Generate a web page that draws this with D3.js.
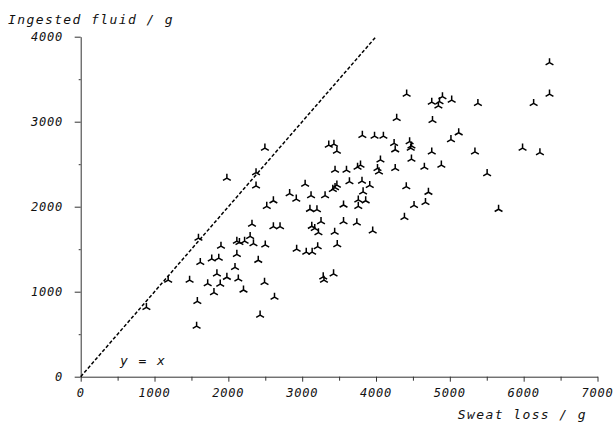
<!DOCTYPE html>
<html>
<head>
<meta charset="utf-8">
<script src="https://cdn.jsdelivr.net/npm/d3@7"></script>
<style>
  html, body { margin: 0; padding: 0; background: #fff; }
  text { font-family: "DejaVu Sans Mono", "Liberation Mono", monospace; font-style: italic; fill: #111; }
</style>
</head>
<body>
<div id="chart"></div>
<script>
// sweat loss (g) vs ingested fluid (g)
const sweatLoss = [
  890, 1570, 1580, 1185, 1475, 1595, 1620, 1720, 1775, 1870,
  1805, 1845, 1890, 1900, 1980, 1980, 2090, 2115, 2115, 2135,
  2150, 2205, 2220, 2295, 2320, 2340, 2375, 2375, 2405, 2430,
  2490, 2500, 2495, 2520, 2610, 2610, 2625, 2700, 2830, 2920,
  2925, 3040, 3055, 3105, 3120, 3135, 3130, 3170, 3200, 3210,
  3220, 3255, 3285, 3295, 3310, 3360, 3430, 3470, 3425, 3440,
  3445, 3470, 3445, 3415, 3475, 3560, 3560, 3600, 3640, 3740,
  3750, 3790, 3810, 3815, 3825, 3760, 3860, 3760, 3915, 3955,
  3980, 4020, 4040, 4060, 4100, 4245, 4260, 4260, 4280, 4385,
  4410, 4415, 4455, 4480, 4480, 4515, 4655, 4670, 4710, 4755,
  4765, 4755, 4845, 4860, 4900, 4885, 5015, 5025, 5120, 5340,
  5380, 5505, 5660, 5985, 6135, 6220, 6350, 6350, 4470
];
const ingestedFluid = [
  815, 595, 885, 1135, 1135, 1630, 1345, 1095, 1385, 1395,
  990, 1210, 1090, 1535, 1170, 2335, 1285, 1440, 1595, 1150,
  1580, 1020, 1595, 1650, 1795, 1565, 2400, 2245, 1370, 725,
  1110, 1550, 2690, 2005, 2070, 1765, 935, 1765, 2155, 2090,
  1500, 2265, 1465, 1970, 2130, 1465, 1770, 1745, 1965, 1530,
  1695, 1825, 1175, 1135, 2130, 2725, 2735, 2655, 1210, 1700,
  2430, 2255, 2225, 2205, 1555, 2020, 1825, 2430, 2295, 1810,
  2465, 2490, 2300, 2840, 2175, 2080, 2070, 2005, 2250, 1715,
  2830, 2450, 2410, 2550, 2830, 2745, 2670, 2450, 3040, 1875,
  2235, 3325, 2765, 2715, 2560, 2015, 2465, 2050, 2170, 3230,
  3015, 2645, 3185, 3235, 3295, 2490, 2790, 3255, 2870, 2645,
  3215, 2390, 1970, 2690, 3215, 2635, 3695, 3325, 2690
];
const xMajorTicks = [0, 1000, 2000, 3000, 4000, 5000, 6000, 7000];
const yMajorTicks = [0, 1000, 2000, 3000, 4000];
const identityLine = [0, 4000];

const W = 615, H = 424;
const svg = d3.select("#chart").append("svg")
  .attr("width", W).attr("height", H);

const x = d3.scaleLinear().domain([0, 7000]).range([80.7, 597.5]);
const y = d3.scaleLinear().domain([0, 4000]).range([376.7, 36.7]);

const axisColor = "#333";

// x axis
const xAxis = svg.append("g").attr("transform", `translate(0,${y(0)})`);
xAxis.call(d3.axisBottom(x).tickValues(d3.range(0, 7001, 500))
  .tickSize(4).tickSizeOuter(0).tickFormat(""));
xAxis.selectAll(".tick").filter(d => d % 1000 === 0).select("line").attr("y2", 5);
xAxis.selectAll("path, line").attr("stroke", axisColor).attr("stroke-width", 1);
xAxis.selectAll(".tick text").remove();

svg.append("g").selectAll("text").data(xMajorTicks).join("text")
  .attr("x", d => x(d))
  .attr("y", 397)
  .attr("text-anchor", "middle")
  .attr("font-size", 12)
  .attr("letter-spacing", 0.8)
  .text(d => d);

// y axis
const yAxis = svg.append("g").attr("transform", `translate(${x(0)},0)`);
yAxis.call(d3.axisLeft(y).tickValues(d3.range(0, 4001, 500))
  .tickSize(2).tickSizeOuter(0).tickFormat(""));
yAxis.selectAll(".tick").filter(d => d % 1000 === 0).select("line").attr("x2", -6);
yAxis.selectAll("path, line").attr("stroke", axisColor).attr("stroke-width", 1);
yAxis.selectAll(".tick text").remove();

svg.append("g").selectAll("text").data(yMajorTicks).join("text")
  .attr("x", 63)
  .attr("y", d => y(d) + 4)
  .attr("text-anchor", "end")
  .attr("font-size", 12)
  .attr("letter-spacing", 0.8)
  .text(d => d);

// axis titles
svg.append("text")
  .attr("x", 8).attr("y", 24)
  .attr("font-size", 13)
  .attr("letter-spacing", 1.4)
  .text("Ingested fluid / g");

svg.append("text")
  .attr("x", 587).attr("y", 419)
  .attr("text-anchor", "end")
  .attr("font-size", 13)
  .attr("letter-spacing", 1.4)
  .text("Sweat loss / g");

// y = x reference
svg.append("line")
  .attr("x1", x(identityLine[0])).attr("y1", y(identityLine[0]))
  .attr("x2", x(identityLine[1])).attr("y2", y(identityLine[1]))
  .attr("stroke", "#000")
  .attr("stroke-width", 1.5)
  .attr("stroke-dasharray", "3.5,2");

svg.append("text")
  .attr("x", 120).attr("y", 365)
  .attr("font-size", 13)
  .attr("letter-spacing", 1.4)
  .text("y = x");

// tri-star markers
const arm = 4.5;
const markerPath = `M0,0L0,${-arm}M0,0L${-arm * 0.866},${arm * 0.5}M0,0L${arm * 0.866},${arm * 0.5}`;
const pts = sweatLoss.map((s, i) => [s, ingestedFluid[i]]);

svg.append("g").selectAll("path").data(pts).join("path")
  .attr("transform", d => `translate(${x(d[0])},${y(d[1])})`)
  .attr("d", markerPath)
  .attr("fill", "none")
  .attr("stroke", "#000")
  .attr("stroke-width", 1.5);
</script>
</body>
</html>
